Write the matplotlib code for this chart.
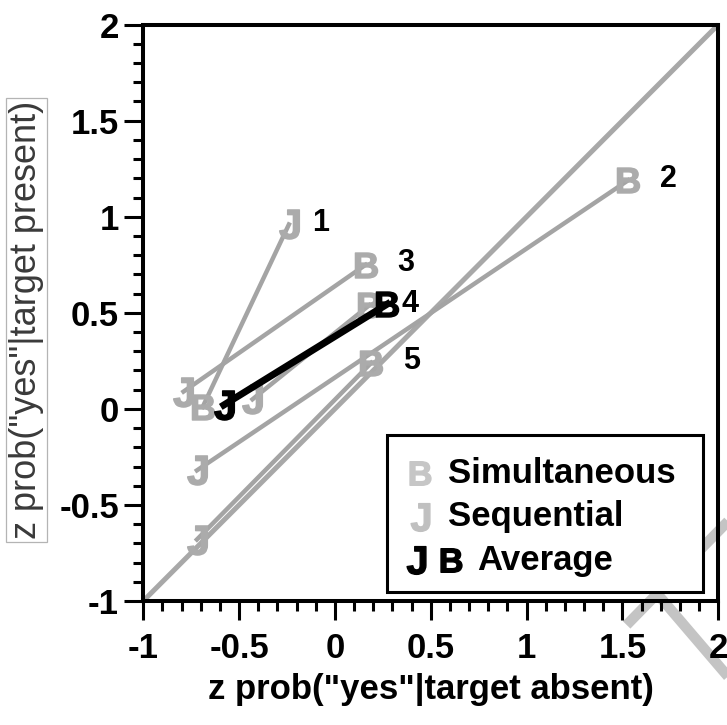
"""Simultaneous vs sequential lineups: z-transformed hit and false alarm rates."""
import numpy as np
import matplotlib.pyplot as plt
from matplotlib.lines import Line2D
from matplotlib.patches import Rectangle
from matplotlib.ticker import MultipleLocator, FormatStrFormatter

plt.rcParams['font.family'] = ['Liberation Sans', 'DejaVu Sans']
plt.rcParams['axes.unicode_minus'] = False
plt.rcParams['mathtext.fontset'] = 'custom'
plt.rcParams['mathtext.bf'] = 'Liberation Sans:bold'

# condition labels and the two points per condition (x = z FA, y = z hit)
cond_labels = ['1', '2', '3', '4', '5']
sim_x = [-0.69, 1.53, 0.16, 0.18, 0.19]
sim_y = [0.01, 1.19, 0.75, 0.54, 0.24]
seq_x = [-0.24, -0.72, -0.79, -0.43, -0.72]
seq_y = [0.96, -0.32, 0.09, 0.05, -0.68]

avg_sim = (np.mean(sim_x), np.mean(sim_y))
avg_seq = (np.mean(seq_x), np.mean(seq_y))

GRAY_LINE = '#a4a4a4'
GRAY_MARK = '#ababab'
MK_B = r'$\mathbf{B}$'
MK_J = r'$\mathbf{J}$'

fig = plt.figure(figsize=(7.27, 7.25), dpi=100)
ax = fig.add_axes([0.197, 0.171, 0.791, 0.795])

# chance diagonal
ax.plot([-1, 2], [-1, 2], color='#a8a8a8', lw=3.6, zorder=2, solid_capstyle='butt')

# per-condition connecting lines
for sx, sy, qx, qy in zip(sim_x, sim_y, seq_x, seq_y):
    ax.plot([sx, qx], [sy, qy], color=GRAY_LINE, lw=3.2, zorder=3)

ax.plot(sim_x, sim_y, ls='none', marker=MK_B, ms=18, color=GRAY_MARK, mew=1.0, zorder=4)
ax.plot(seq_x, seq_y, ls='none', marker=MK_J, ms=21, color=GRAY_MARK, mew=1.0, zorder=4)

# average line
ax.plot([avg_seq[0], avg_sim[0]], [avg_seq[1], avg_sim[1]], color='black', lw=5, zorder=5)
ax.plot([avg_sim[0]], [avg_sim[1]], ls='none', marker=MK_B, ms=18, color='black', mew=1.0, zorder=6)
ax.plot([avg_seq[0]], [avg_seq[1]], ls='none', marker=MK_J, ms=21, color='black', mew=1.0, zorder=6)

# condition numbers, next to the right-hand point of each pair
for lab, sx, sy, qx, qy in zip(cond_labels, sim_x, sim_y, seq_x, seq_y):
    px, py = (sx, sy) if sx > qx else (qx, qy)
    dx = 17 if sx < qx else 23
    ax.annotate(lab, (px, py), xytext=(dx, 1), textcoords='offset points',
                ha='left', va='center', fontsize=22, fontweight='bold', zorder=7)

# watermark-like gray chevron in the lower right corner
for xs, ys in [([1.02, 0.862], [0.300, 0.138]), ([0.904, 1.02], [0.181, 0.045])]:
    ax.add_line(Line2D(xs, ys, transform=fig.transFigure, color='#c4c4c4', lw=7.5,
                       clip_on=False, zorder=1.5, solid_capstyle='butt'))

# legend drawn by hand (average entry carries two symbols)
ax.add_patch(Rectangle((0.424, 0.016), 0.55, 0.272, transform=ax.transAxes,
                       facecolor='white', edgecolor='black', lw=2.2, zorder=8))
leg_rows = [0.222, 0.146, 0.071]
ax.plot([0.482], [leg_rows[0]], transform=ax.transAxes, ls='none', marker=MK_B,
        ms=17, color='#c6c6c6', zorder=9)
ax.plot([0.482], [leg_rows[1]], transform=ax.transAxes, ls='none', marker=MK_J,
        ms=20, color='#c0c0c0', zorder=9)
ax.plot([0.475], [leg_rows[2]], transform=ax.transAxes, ls='none', marker=MK_J,
        ms=20, color='black', zorder=9)
ax.plot([0.536], [leg_rows[2]], transform=ax.transAxes, ls='none', marker=MK_B,
        ms=17, color='black', zorder=9)
for txt, xx, yy in [('Simultaneous', 0.530, leg_rows[0]), ('Sequential', 0.530, leg_rows[1]),
                    ('Average', 0.581, leg_rows[2])]:
    ax.text(xx, yy, txt, transform=ax.transAxes, ha='left', va='center',
            fontsize=25, fontweight='bold', zorder=9)

ax.set_xlim(-1, 2)
ax.set_ylim(-1, 2)
ax.set_xticks(np.arange(-1, 2.01, 0.5))
ax.set_yticks(np.arange(-1, 2.01, 0.5))
ax.xaxis.set_minor_locator(MultipleLocator(0.1))
ax.yaxis.set_minor_locator(MultipleLocator(0.1))
ax.xaxis.set_major_formatter(FormatStrFormatter('%g'))
ax.yaxis.set_major_formatter(FormatStrFormatter('%g'))
ax.tick_params(which='both', direction='out', top=False, right=False, width=2.2)
ax.tick_params(which='major', length=13.5)
ax.tick_params(which='minor', length=7)
ax.tick_params(axis='x', which='major', pad=9)
ax.tick_params(axis='y', which='major', pad=4)
for lbl in ax.get_xticklabels() + ax.get_yticklabels():
    lbl.set_fontsize(25)
    lbl.set_fontweight('bold')
for sp in ax.spines.values():
    sp.set_linewidth(2.9)
    sp.set_zorder(10)

ax.set_xlabel('z prob("yes"|target absent)', fontsize=25, fontweight='bold')
ax.xaxis.set_label_coords(0.5, -0.125)
ax.set_ylabel('z prob("yes"|target present)', fontsize=26, color='#3a3a3a',
              bbox=dict(facecolor='none', edgecolor='#b4b4b4', lw=0.9, pad=2))
ax.yaxis.set_label_coords(-0.172, 0.488)

fig.savefig('out.png', dpi=100)
